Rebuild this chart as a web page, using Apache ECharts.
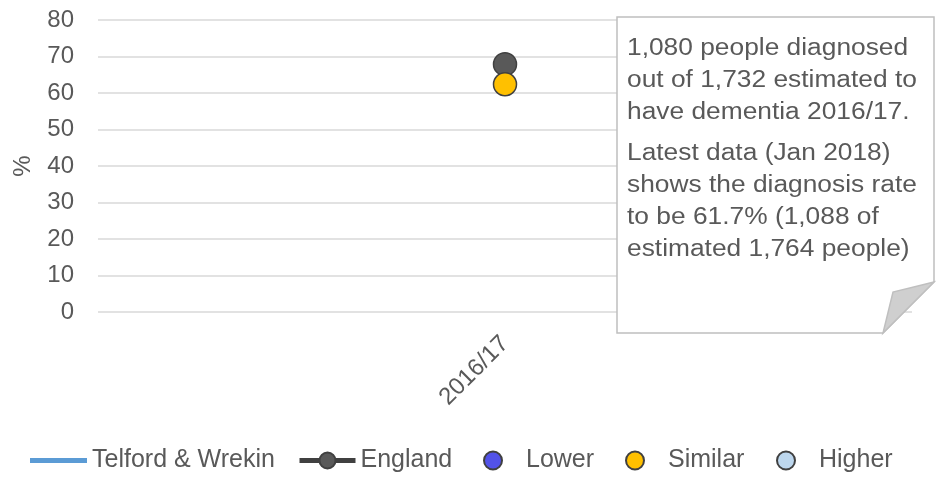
<!DOCTYPE html>
<html>
<head>
<meta charset="utf-8">
<script src="https://cdn.jsdelivr.net/npm/echarts@6/dist/echarts.min.js"></script>
<style>
  html, body { margin: 0; padding: 0; background: #fff; }
  #chart { width: 936px; height: 483px; }
</style>
</head>
<body>
<div id="chart"></div>
<script>
var categories = ['2016/17'];
var telford = [62.4];
var england = [67.9];
// significance of Telford & Wrekin compared with England
var significance = ['Similar'];
var yTicks = [0, 80, 10]; // min, max, interval

var noteLines1 = ['1,080 people diagnosed', 'out of 1,732 estimated to', 'have dementia 2016/17.'];
var noteLines2 = ['Latest data (Jan 2018)', 'shows the diagnosis rate', 'to be 61.7% (1,088 of', 'estimated 1,764 people)'];

var TEXT = '#595959';
var GRID = '#d9d9d9';

function pick (level) {
  return telford.map(function (v, i) { return significance[i] === level ? v : null; });
}

var chart = echarts.init(document.getElementById('chart'));

var legendSpec = [
  { name: 'Telford & Wrekin', left: 25, itemWidth: 57, itemHeight: 14, icon: 'path://M0,0H57V5H0Z' },
  { name: 'England', left: 292, itemWidth: 56, itemHeight: 20 },
  { name: 'Lower', left: 478, itemWidth: 56, itemHeight: 18 },
  { name: 'Similar', left: 620, itemWidth: 56, itemHeight: 18 },
  { name: 'Higher', left: 771, itemWidth: 56, itemHeight: 18 }
];

var legends = legendSpec.map(function (l) {
  var item = { name: l.name };
  if (l.icon) item.icon = l.icon;
  return {
    data: [item],
    left: l.left,
    top: 443,
    itemWidth: l.itemWidth,
    itemHeight: l.itemHeight,
    lineStyle: { width: 5 },
    textStyle: { fontSize: 25, color: TEXT, fontFamily: 'Liberation Sans' },
    selectedMode: false
  };
});

var dot = function (color) {
  return { color: color, borderColor: '#404040', borderWidth: 1.5, opacity: 1 };
};

var noteText = function (lines, y) {
  return {
    type: 'text',
    x: 627,
    y: y,
    scaleX: 1.145,
    z: 102,
    style: { text: lines.join('\n'), fontSize: 23, lineHeight: 32, fill: TEXT, fontFamily: 'Liberation Sans' }
  };
};

var option = {
  animation: false,
  textStyle: { fontFamily: 'Liberation Sans' },
  grid: { left: 98, right: 24, top: 20, bottom: 171, containLabel: false },
  legend: legends,
  xAxis: {
    type: 'category',
    data: categories,
    axisLine: { show: false },
    axisTick: { show: false },
    axisLabel: { rotate: 45, margin: 28, fontSize: 24, color: TEXT }
  },
  yAxis: {
    type: 'value',
    min: yTicks[0],
    max: yTicks[1],
    interval: yTicks[2],
    name: '%',
    nameLocation: 'middle',
    nameGap: 63,
    nameTextStyle: { fontSize: 24, color: TEXT },
    axisLine: { show: false },
    axisTick: { show: false },
    axisLabel: { margin: 24, fontSize: 24, color: TEXT },
    splitLine: { lineStyle: { color: GRID, width: 1.5 } }
  },
  series: [
    {
      name: 'Telford & Wrekin',
      type: 'line',
      data: telford,
      symbol: 'none',
      lineStyle: { color: '#5b9bd5', width: 5 },
      itemStyle: { color: '#5b9bd5' }
    },
    {
      name: 'England',
      type: 'line',
      data: england,
      symbol: 'circle',
      symbolSize: 23,
      lineStyle: { color: '#404040', width: 5 },
      itemStyle: dot('#595959'),
      z: 3
    },
    {
      name: 'Lower',
      type: 'scatter',
      data: pick('Lower'),
      symbolSize: 23,
      itemStyle: dot('#5252e8'),
      z: 4
    },
    {
      name: 'Similar',
      type: 'scatter',
      data: pick('Similar'),
      symbolSize: 23,
      itemStyle: dot('#ffc000'),
      z: 4
    },
    {
      name: 'Higher',
      type: 'scatter',
      data: pick('Higher'),
      symbolSize: 23,
      itemStyle: dot('#bdd7ee'),
      z: 4
    }
  ],
  graphic: [
    {
      type: 'polygon',
      shape: { points: [[617, 17], [934, 17], [934, 282], [883, 333], [617, 333]] },
      style: { fill: '#fff', stroke: '#bfbfbf', lineWidth: 1.5 },
      z: 100
    },
    {
      type: 'polygon',
      shape: { points: [[934, 282], [893, 292], [883, 333]] },
      style: { fill: '#cfcfcf', stroke: '#bfbfbf', lineWidth: 1.5 },
      z: 101
    },
    noteText(noteLines1, 33),
    noteText(noteLines2, 138)
  ]
};

chart.setOption(option);
</script>
</body>
</html>
